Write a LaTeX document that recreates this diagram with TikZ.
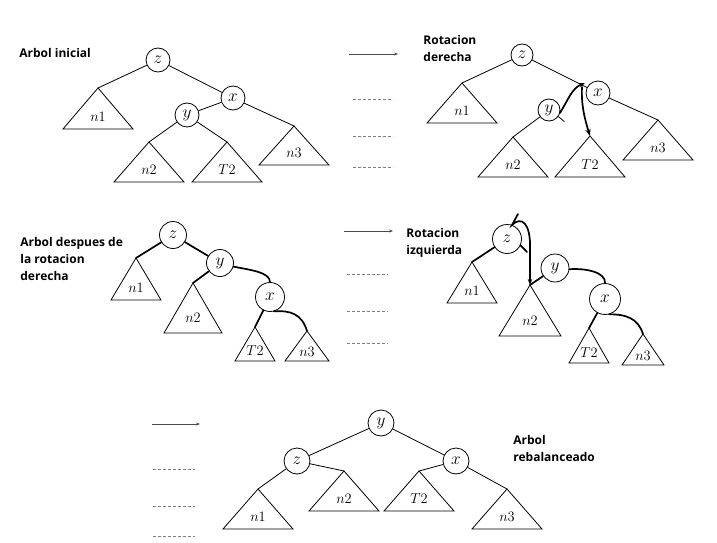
\documentclass[tikz,border=0pt]{standalone}
\usepackage{fontspec}
\setmainfont{Open Sans}
\usetikzlibrary{arrows.meta}

% subtree triangle: name, apex x, apex y, half width, height, label
\newcommand{\subtri}[6]{%
  \coordinate (#1) at (#2,#3);
  \draw (#1) -- ++(-#4,#5) -- ++(2*#4,0) -- cycle;
  \node[sub] at ({#2},{#3+0.7*#5}) {#6};
}

\begin{document}
\begin{tikzpicture}[x=1pt, y=-1pt, line width=0.8pt,
  vtx/.style={draw, circle, inner sep=0pt, minimum size=24pt, font=\fontsize{16}{16}\selectfont},
  sub/.style={font=\fontsize{15}{15}\selectfont},
  hand/.style={line width=1.7pt, line cap=round},
  lbl/.style={font=\bfseries\fontsize{12}{17}\selectfont, align=left, anchor=base west, inner sep=0pt},
  go/.style={-{Stealth[length=4pt, width=3pt]}, gray!60!black},
  gap/.style={dash pattern=on 3pt off 2pt, gray}]
\useasboundingbox (0,0) rectangle (717,543);

% arbol inicial
\node[lbl] at (19,57) {Arbol inicial};
\node[vtx] (z1) at (158,60) {$z$};
\node[vtx] (x1) at (233,98) {$x$};
\node[vtx] (y1) at (187,115) {$y$};
\subtri{a1}{98}{88}{35}{41}{$n1$}
\subtri{b1}{149}{142}{35}{40}{$n2$}
\subtri{c1}{227}{142}{35}{40}{$T2$}
\subtri{d1}{294}{126}{35}{39}{$n3$}
\draw (z1) -- (a1) (z1) -- (x1) (x1) -- (y1) (x1) -- (d1)
      (y1) -- (b1) (y1) -- (c1);

% rotacion derecha
\draw[go] (349,54) -- ++(49,0);
\foreach \yy in {99,136,167} \draw[gap] (353,\yy) -- ++(40,0);
\node[lbl] at (423,61) {Rotacion\\derecha};
\node[vtx, minimum size=22pt] (z2) at (522,55) {$z$};
\node[vtx] (x2) at (598,93) {$x$};
\node[vtx, minimum size=22pt] (y2) at (549,110) {$y$};
\subtri{a2}{462}{83}{35}{40}{$n1$}
\subtri{b2}{513}{137}{35}{40}{$n2$}
\subtri{c2}{590}{136}{35}{41}{$T2$}
\subtri{d2}{658}{120}{35}{40}{$n3$}
\draw (z2) -- (a2) (z2) -- (x2) (x2) -- (d2) (y2) -- (b2)
      (y2.-35) -- ++(6,5);
\draw[hand, -{Stealth[length=6pt]}] (y2.-15) .. controls (568,100) and (572,88) .. (585,83);
\draw[hand, -{Stealth[length=7pt]}] (582,87) .. controls (581,105) and (585,120) .. (c2);

% arbol despues de la rotacion derecha
\node[lbl] at (20,280) {Arbol despues de\\la rotacion\\derecha};
\node[vtx, minimum size=27pt] (z3) at (173,235) {$z$};
\node[vtx, minimum size=27pt] (y3) at (220,263) {$y$};
\node[vtx, minimum size=29pt] (x3) at (270,297) {$x$};
\subtri{a3}{136}{258}{25}{42}{$n1$}
\subtri{b3}{193}{283}{29}{50}{$n2$}
\subtri{c3}{255}{327}{20}{34}{$T2$}
\subtri{d3}{307}{331}{22}{30}{$n3$}
\draw[hand] (z3) -- (a3);
\draw[hand] (z3) -- (y3);
\draw[hand] (y3) -- (b3);
\draw[hand] (y3.-15) .. controls (250,270) and (270,272) .. (x3.north);
\draw[hand] (x3) -- (c3);
\draw[hand] (x3.-75) .. controls (290,310) and (302,314) .. (d3);

% rotacion izquierda
\draw[go] (344,231) -- ++(49,0);
\foreach \yy in {274,311,343} \draw[gap] (347,\yy) -- ++(41,0);
\node[lbl] at (406,254) {Rotacion\\izquierda};
\node[vtx, minimum size=29pt] (z4) at (507,239) {$z$};
\node[vtx, minimum size=28pt] (y4) at (555,268) {$y$};
\node[vtx, minimum size=31pt] (x4) at (605,299) {$x$};
\subtri{a4}{472}{262}{25}{41}{$n1$}
\subtri{b4}{530}{285}{31}{51}{$n2$}
\subtri{c4}{589}{328}{20}{35}{$T2$}
\subtri{d4}{643}{334}{21}{31}{$n3$}
\draw[hand] (z4) -- (a4);
\draw[hand] (z4.-25) -- (527,252);
\draw[hand, -{Stealth[length=6pt]}] (518,214) -- (512,225)
  .. controls (521,216) and (531,222) .. (530,250) -- (b4);
\draw[hand] (y4) -- (b4);
\draw[hand] (y4.-5) .. controls (585,268) and (606,272) .. (x4.north);
\draw[hand] (x4) -- (c4);
\draw[hand] (x4.-75) .. controls (625,314) and (638,318) .. (d4);

% arbol rebalanceado
\draw[go] (152,424) -- ++(48,0);
\foreach \yy in {469,506,536} \draw[gap] (153,\yy) -- ++(42,0);
\node[lbl] at (513,461) {Arbol\\rebalanceado};
\node[vtx, minimum size=26pt] (y5) at (381,423) {$y$};
\node[vtx, minimum size=26pt] (z5) at (297,461) {$z$};
\node[vtx, minimum size=26pt] (x5) at (456,461) {$x$};
\subtri{a5}{258}{489}{35}{40}{$n1$}
\subtri{b5}{344}{471}{35}{40}{$n2$}
\subtri{c5}{419}{471}{35}{40}{$T2$}
\subtri{d5}{507}{489}{35}{40}{$n3$}
\draw (y5) -- (z5) (y5) -- (x5) (z5) -- (a5) (z5) -- (b5)
      (x5) -- (c5) (x5) -- (d5);
\end{tikzpicture}
\end{document}
